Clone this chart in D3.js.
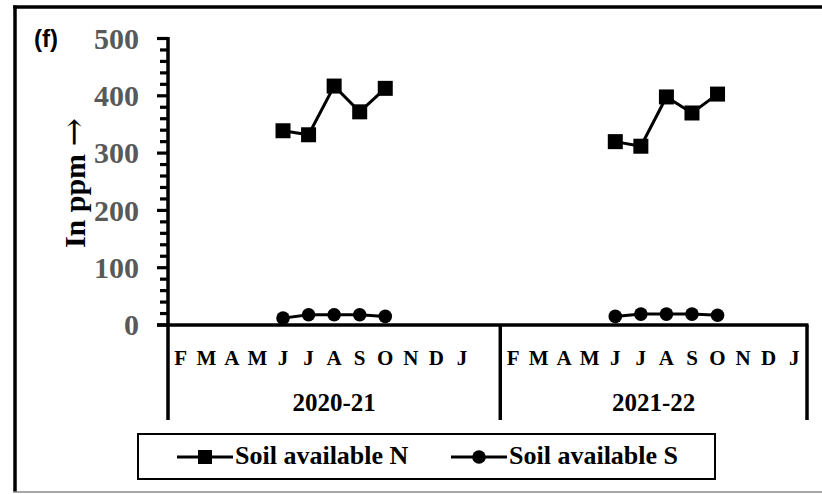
<!DOCTYPE html>
<html>
<head>
<meta charset="utf-8">
<script src="https://cdn.jsdelivr.net/npm/d3@7"></script>
<style>
  html, body { margin: 0; padding: 0; background: #fff; }
  svg { display: block; }
  text { font-family: "Liberation Serif", "Times New Roman", serif; font-weight: bold; }
</style>
</head>
<body>
<svg id="chart" width="822" height="494"></svg>
<script>
// Season groups and their month labels (first season carries one trailing blank slot)
const seasons = ["2020-21", "2021-22"];
const monthsSeason1 = ["F", "M", "A", "M", "J", "J", "A", "S", "O", "N", "D", "J", ""];
const monthsSeason2 = ["F", "M", "A", "M", "J", "J", "A", "S", "O", "N", "D", "J"];
// Months sampled (index into month list): J, J, A, S, O
const sampledMonthIdx = [4, 5, 6, 7, 8];

// Soil available N (ppm)
const nitrogen2020 = [339, 332, 417, 372, 413];
const nitrogen2021 = [320, 312, 398, 370, 403];
// Soil available S (ppm)
const sulphur2020 = [12, 18, 18, 18, 15];
const sulphur2021 = [15, 19, 19, 19, 17];

const yMajorTicks = [0, 100, 200, 300, 400, 500];
const yMinorTicks = d3.range(0, 501, 20);

const seriesNames = ["Soil available N", "Soil available S"];

// ---- build category keys ----
const monthLists = [monthsSeason1, monthsSeason2];
const categories = [];
monthLists.forEach((list, s) => list.forEach((m, i) => categories.push({ key: s + "|" + i, label: m, season: s })));

const svg = d3.select("#chart");

const x = d3.scaleBand().domain(categories.map(c => c.key)).range([168, 807]).padding(0);
const y = d3.scaleLinear().domain([0, 500]).range([325, 38.5]);
const cx = k => x(k) + x.bandwidth() / 2;
const AXIS_X = 168;

// ---- outer frame ----
svg.append("line").attr("x1", 15).attr("x2", 15).attr("y1", 5.5).attr("y2", 492)
  .attr("stroke", "#000").attr("stroke-width", 3.5);
svg.append("line").attr("x1", 13).attr("x2", 822).attr("y1", 7).attr("y2", 7)
  .attr("stroke", "#000").attr("stroke-width", 3.5);
svg.append("line").attr("x1", 13).attr("x2", 822).attr("y1", 492).attr("y2", 492)
  .attr("stroke", "#888").attr("stroke-width", 1.5);

// ---- panel tag ----
svg.append("text").attr("x", 34).attr("y", 47)
  .style("font-family", "'Liberation Sans', Arial, sans-serif")
  .style("font-size", "24px").style("font-weight", "bold").text("(f)");

// tick labels
svg.append("g").selectAll("text").data(yMajorTicks).join("text")
  .attr("x", AXIS_X - 29).attr("y", d => y(d)).attr("dy", "0.34em")
  .attr("text-anchor", "end").attr("fill", "#595959")
  .style("font-size", "30px").text(d3.format("d"));

// vertical axis line (continues down through the category label rows)
svg.append("line").attr("x1", AXIS_X).attr("x2", AXIS_X).attr("y1", y(500) - 1.5).attr("y2", 420)
  .attr("stroke", "#000").attr("stroke-width", 3.5);

// ---- y axis: tick marks (minor every 20, major every 100) ----
svg.append("g").attr("class", "y-ticks").selectAll("rect").data(yMinorTicks).join("rect")
  .attr("x", d => AXIS_X - (d % 100 === 0 ? 11 : 8))
  .attr("y", d => y(d) - 1.6)
  .attr("width", d => (d % 100 === 0 ? 11 : 8))
  .attr("height", 3.2)
  .attr("fill", "#000");

// y axis title
const yTitle = svg.append("text").attr("transform", "translate(85,183) rotate(-90)")
  .attr("text-anchor", "middle").style("font-size", "30px");
yTitle.append("tspan").text("In ppm ");
yTitle.append("tspan").style("font-family", "'DejaVu Serif', serif").style("font-weight", "normal")
  .style("font-size", "34px").text("\u2192");

// ---- x axis (two-level category axis) ----
svg.append("line").attr("x1", 157).attr("x2", 808.5).attr("y1", y(0)).attr("y2", y(0))
  .attr("stroke", "#000").attr("stroke-width", 3.5);

const seasonEdges = monthLists.map((list, s) => x(s + "|0"));
seasonEdges.push(x.range()[1]);

svg.append("g").selectAll("line").data(seasonEdges.slice(1)).join("line")
  .attr("x1", d => d).attr("x2", d => d).attr("y1", y(0)).attr("y2", 420)
  .attr("stroke", "#000").attr("stroke-width", 3.5);

svg.append("g").selectAll("text").data(categories).join("text")
  .attr("x", d => cx(d.key)).attr("y", 365).attr("text-anchor", "middle")
  .style("font-size", "21px").text(d => d.label);

svg.append("g").selectAll("text").data(seasons).join("text")
  .attr("x", (d, i) => (seasonEdges[i] + seasonEdges[i + 1]) / 2).attr("y", 411)
  .attr("text-anchor", "middle").style("font-size", "25px").text(d => d);

// ---- series ----
const seriesData = [
  { name: seriesNames[0], marker: "square", seasons: [nitrogen2020, nitrogen2021] },
  { name: seriesNames[1], marker: "circle", seasons: [sulphur2020, sulphur2021] }
];

const line = d3.line().x(d => d.x).y(d => d.y);

seriesData.forEach(sr => {
  sr.seasons.forEach((vals, s) => {
    const pts = vals.map((v, i) => ({ x: cx(s + "|" + sampledMonthIdx[i]), y: y(v) }));
    svg.append("path").attr("d", line(pts)).attr("fill", "none")
      .attr("stroke", "#000").attr("stroke-width", 3);
    const g = svg.append("g");
    if (sr.marker === "square") {
      g.selectAll("rect").data(pts).join("rect")
        .attr("x", d => d.x - 7.5).attr("y", d => d.y - 7.5).attr("width", 15).attr("height", 15)
        .attr("fill", "#000");
    } else {
      g.selectAll("circle").data(pts).join("circle")
        .attr("cx", d => d.x).attr("cy", d => d.y).attr("r", 6.8).attr("fill", "#000");
    }
  });
});

// ---- legend ----
svg.append("rect").attr("x", 138).attr("y", 434).attr("width", 577).attr("height", 45)
  .attr("fill", "#fff").attr("stroke", "#000").attr("stroke-width", 2);

const legendItems = [
  { name: seriesNames[0], marker: "square", x0: 177 },
  { name: seriesNames[1], marker: "circle", x0: 451 }
];
legendItems.forEach(it => {
  const g = svg.append("g").attr("transform", `translate(${it.x0},457)`);
  g.append("line").attr("x1", 0).attr("x2", 56).attr("y1", 0).attr("y2", 0)
    .attr("stroke", "#000").attr("stroke-width", 3);
  if (it.marker === "square") {
    g.append("rect").attr("x", 28 - 7).attr("y", -7).attr("width", 14).attr("height", 14).attr("fill", "#000");
  } else {
    g.append("circle").attr("cx", 28).attr("cy", 0).attr("r", 6.8).attr("fill", "#000");
  }
  g.append("text").attr("x", 58).attr("y", 7).style("font-size", "26px").text(it.name);
});
</script>
</body>
</html>
